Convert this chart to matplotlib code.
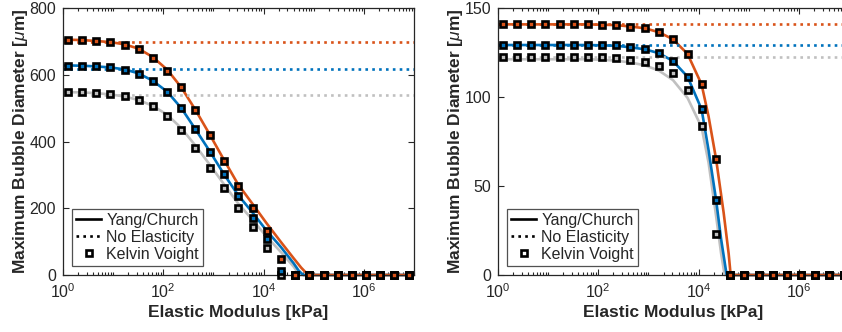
import numpy as np
import matplotlib
matplotlib.use("Agg")
import matplotlib.pyplot as plt
from matplotlib.lines import Line2D
from matplotlib.ticker import LogLocator, NullFormatter

plt.rcParams['font.family'] = ['Liberation Sans', 'DejaVu Sans']
plt.rcParams['mathtext.fontset'] = 'custom'
plt.rcParams['mathtext.rm'] = 'Liberation Sans'
plt.rcParams['mathtext.it'] = 'Liberation Sans:italic'

TXT = '#262626'
ORANGE = '#D95319'
BLUE = '#0072BD'
GRAY = '#C0C0C0'

# Kelvin Voight sample positions (log10 of elastic modulus, kPa)
kv_logx = [0.09, 0.38, 0.66, 0.94, 1.23, 1.51, 1.79, 2.08, 2.36, 2.64, 2.93, 3.21, 3.49,
           3.78, 4.06, 4.35, 4.63, 4.91, 5.2, 5.48, 5.76, 6.05, 6.33, 6.61, 6.9]

# ---- left panel ----
left_kv_orange = [703, 703, 700, 697, 690, 676, 651, 612, 562, 493, 418, 342, 268, 202, 132, 48,
                  0, 0, 0, 0, 0, 0, 0, 0, 0]
left_kv_blue = [627, 627, 625, 622, 615, 603, 581, 548, 500, 437, 370, 302, 237, 172, 108, 12,
                0, 0, 0, 0, 0, 0, 0, 0, 0]
left_kv_gray = [547, 547, 545, 541, 535, 523, 505, 476, 435, 381, 322, 262, 202, 145, 82, 0,
                0, 0, 0, 0, 0, 0, 0, 0, 0]

left_yc_orange_x = [0, 0.09, 0.38, 0.66, 0.94, 1.23, 1.51, 1.79, 2.08, 2.36, 2.64, 2.93, 3.21,
                    3.49, 3.78, 4.06, 4.35, 4.6, 4.75, 4.89, 7]
left_yc_orange = [705, 705, 704, 701, 698, 691, 678, 653, 615, 562, 495, 420, 345,
                  272, 213, 155, 98, 50, 22, 0, 0]
left_yc_blue_x = [0, 0.09, 0.38, 0.66, 0.94, 1.23, 1.51, 1.79, 2.08, 2.36, 2.64, 2.93, 3.21,
                  3.49, 3.78, 4.06, 4.35, 4.6, 4.7, 4.79, 7]
left_yc_blue = [628, 628, 627, 625, 622, 616, 604, 582, 549, 500, 437, 370, 302,
                240, 187, 133, 83, 35, 13, 0, 0]
left_yc_gray_x = [0, 0.09, 0.38, 0.66, 0.94, 1.23, 1.51, 1.79, 2.08, 2.36, 2.64, 2.93, 3.21,
                  3.49, 3.78, 4.06, 4.35, 4.6, 4.66, 4.73, 7]
left_yc_gray = [548, 548, 547, 545, 541, 535, 524, 507, 480, 440, 388, 330, 272,
                215, 165, 115, 68, 25, 12, 0, 0]

left_noel = [697, 618, 540]  # orange, blue, gray

# ---- right panel ----
right_kv_orange = [140.8, 140.8, 140.8, 140.8, 140.8, 140.8, 140.8, 140.7, 140.5, 139.5, 138.6,
                   136.4, 132.4, 124.2, 107.1, 65.0, 0, 0, 0, 0, 0, 0, 0, 0, 0]
right_kv_blue = [129.2, 129.2, 129.2, 129.2, 129.2, 129.2, 129.2, 129.2, 129.0, 127.9, 126.8,
                 124.6, 120.2, 111.4, 93.1, 42.1, 0, 0, 0, 0, 0, 0, 0, 0, 0]
right_kv_gray = [122.3, 122.3, 122.3, 122.3, 122.3, 122.3, 122.3, 122.3, 122.1, 120.8, 119.7,
                 117.6, 113.3, 104.0, 83.9, 23.0, 0, 0, 0, 0, 0, 0, 0, 0, 0]

right_yc_orange_x = [0, 0.09, 0.38, 0.66, 0.94, 1.23, 1.51, 1.79, 2.08, 2.36, 2.64, 2.93, 3.21,
                     3.49, 3.78, 4.06, 4.2, 4.35, 4.5, 4.6, 4.64, 7]
right_yc_orange = [140.8, 140.8, 140.8, 140.8, 140.8, 140.8, 140.8, 140.8, 140.6, 140.4, 139.6,
                   138.6, 136.4, 132.4, 124.2, 107.1, 89, 65, 35, 12, 0, 0]
right_yc_blue_x = [0, 0.09, 0.38, 0.66, 0.94, 1.23, 1.51, 1.79, 2.08, 2.36, 2.64, 2.93, 3.21,
                   3.49, 3.78, 4.06, 4.2, 4.35, 4.45, 4.56, 7]
right_yc_blue = [129.2, 129.2, 129.2, 129.2, 129.2, 129.2, 129.2, 129.2, 129.0, 128.8, 127.9,
                 126.8, 124.6, 120.2, 111.4, 93.1, 70, 42, 20, 0, 0]
right_yc_gray_x = [0, 0.09, 0.38, 0.66, 0.94, 1.23, 1.51, 1.79, 2.08, 2.36, 2.64, 2.93, 3.21,
                   3.49, 3.78, 4.06, 4.2, 4.35, 4.45, 4.52, 7]
right_yc_gray = [121.2, 121.2, 121.2, 121.2, 121.2, 121.2, 121.2, 121.2, 120.9, 120.4, 119.4,
                 117.8, 114.8, 109.5, 99.5, 83, 63, 33, 12, 0, 0]

right_noel = [140.8, 129.2, 122.3]


def draw_panel(ax, curves, kvs, noel, ylim, yticks):
    colors = [ORANGE, BLUE, GRAY]
    kv_x = 10 ** np.array(kv_logx)
    # solid Yang/Church curves, gray below
    for (cx, cy), c in reversed(list(zip(curves, colors))):
        ax.plot(10 ** np.array(cx), cy, color=c, lw=1.9, zorder=2, clip_on=False,
                solid_capstyle='butt')
    for lvl, c in zip(noel, colors):
        ax.plot([1, 1e7], [lvl, lvl], color=c, lw=1.9, ls=(0, (1.0, 1.6)), zorder=2)
    for vals, c in reversed(list(zip(kvs, colors))):
        ax.plot(kv_x, vals, ls='none', marker='s', ms=3.9, mew=1.9, mec='black', mfc=c,
                zorder=3, clip_on=False)

    ax.set_xscale('log')
    ax.set_xlim(1, 1e7)
    ax.set_ylim(*ylim)
    ax.set_yticks(yticks)
    ax.set_xticks([1, 1e2, 1e4, 1e6])
    ax.xaxis.set_minor_locator(LogLocator(base=10, subs=np.arange(1, 10), numticks=30))
    ax.xaxis.set_minor_formatter(NullFormatter())
    ax.tick_params(which='both', direction='in', top=True, right=True, colors=TXT,
                   labelsize=11.5, width=0.8)
    ax.tick_params(which='major', length=4.5, pad=5)
    ax.tick_params(which='minor', length=2.5)
    for s in ax.spines.values():
        s.set_color(TXT)
        s.set_linewidth(0.9)
    ax.set_xlabel('Elastic Modulus [kPa]', fontsize=12.5, fontweight='bold', color=TXT, labelpad=3)
    ax.set_ylabel(r'Maximum Bubble Diameter [$\mu$m]', fontsize=12.5, fontweight='bold',
                  color=TXT, labelpad=-0.5)

    handles = [Line2D([], [], color='black', lw=1.9),
               Line2D([], [], color='black', lw=1.9, ls=(0, (1.0, 1.6))),
               Line2D([], [], ls='none', marker='s', ms=3.9, mew=1.9, mec='black', mfc='white')]
    leg = ax.legend(handles, ['Yang/Church', 'No Elasticity', 'Kelvin Voight'],
                    loc='lower left', bbox_to_anchor=(0.025, 0.035), borderaxespad=0,
                    fontsize=11.5, frameon=True, fancybox=False, handlelength=1.6,
                    handletextpad=0.3, labelspacing=0.12, borderpad=0.25, numpoints=1)
    leg.get_frame().set_edgecolor(TXT)
    leg.get_frame().set_linewidth(0.9)
    for t in leg.get_texts():
        t.set_color(TXT)


fig = plt.figure(figsize=(8.42, 3.32), dpi=100)
ax1 = fig.add_axes([63 / 842, 57 / 332, 351 / 842, 267 / 332])
ax2 = fig.add_axes([498 / 842, 57 / 332, 351 / 842, 267 / 332])

draw_panel(ax1,
           [(left_yc_orange_x, left_yc_orange), (left_yc_blue_x, left_yc_blue),
            (left_yc_gray_x, left_yc_gray)],
           [left_kv_orange, left_kv_blue, left_kv_gray],
           left_noel, (0, 800), [0, 200, 400, 600, 800])
draw_panel(ax2,
           [(right_yc_orange_x, right_yc_orange), (right_yc_blue_x, right_yc_blue),
            (right_yc_gray_x, right_yc_gray)],
           [right_kv_orange, right_kv_blue, right_kv_gray],
           right_noel, (0, 150), [0, 50, 100, 150])

fig.savefig('out.png', dpi=100)
